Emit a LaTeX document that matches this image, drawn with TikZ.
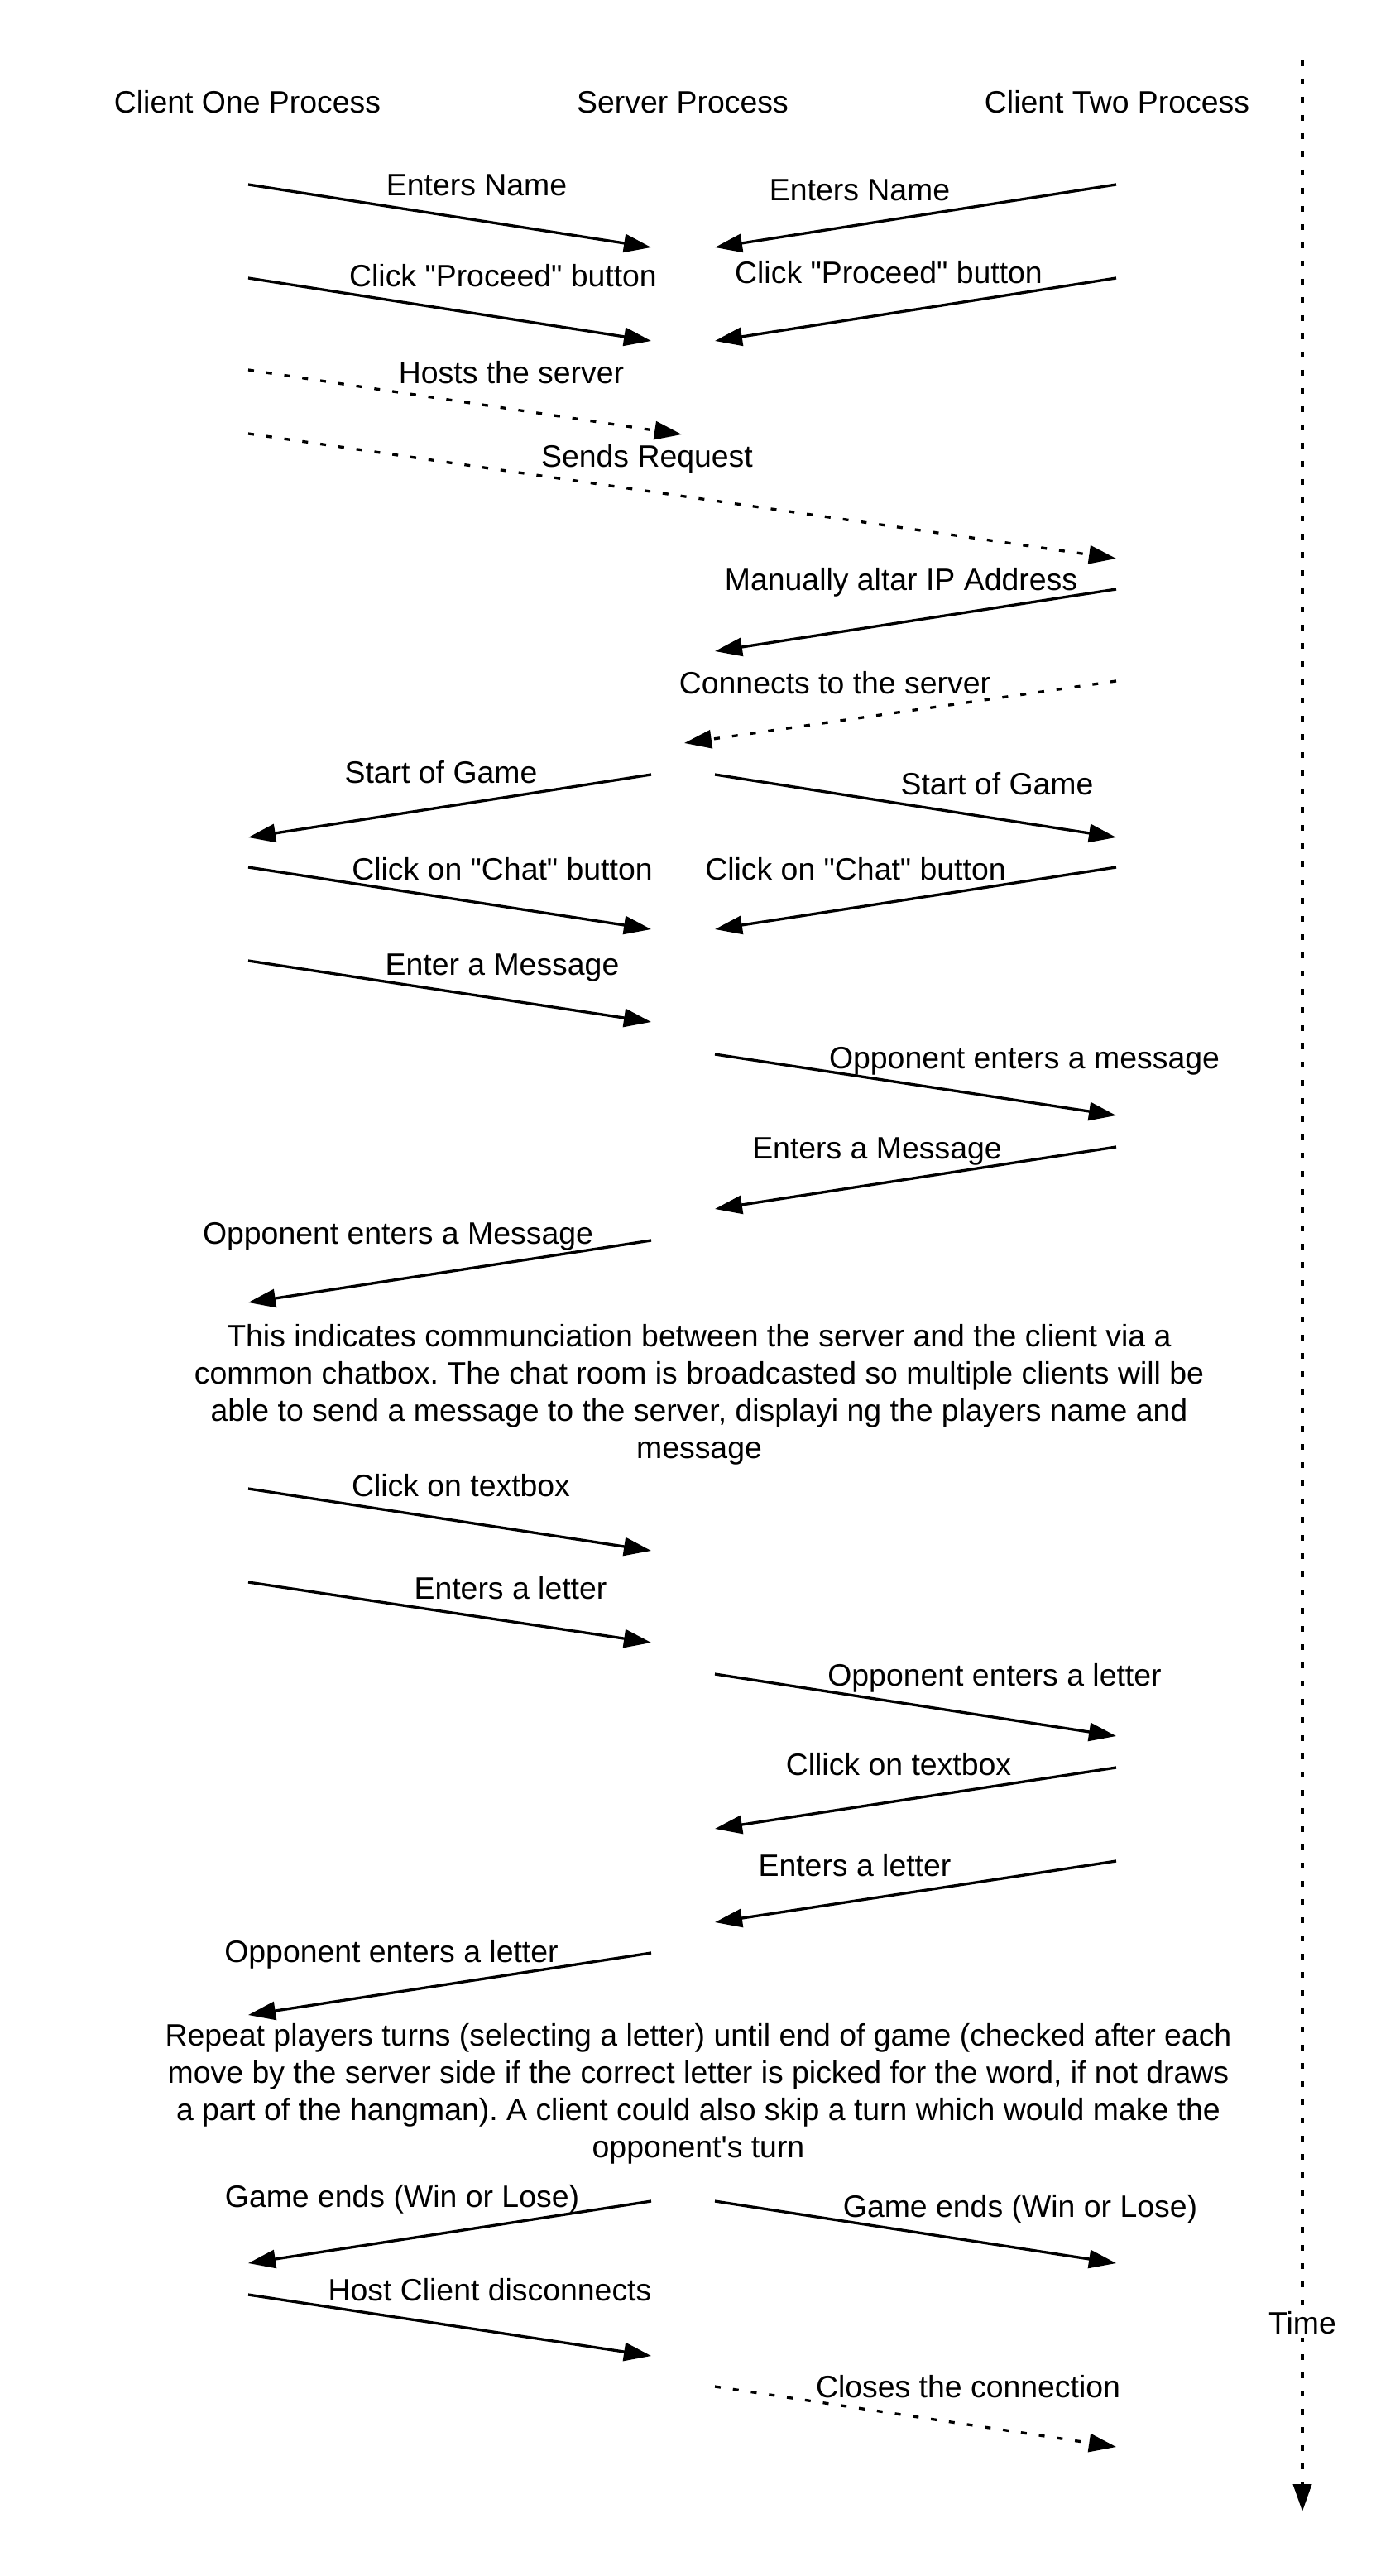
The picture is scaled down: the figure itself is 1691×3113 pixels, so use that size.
\documentclass[tikz,border=0pt]{standalone}
\usepackage{fontspec}
\setmainfont{Liberation Sans}[Ligatures=TeXOff]
\usetikzlibrary{arrows.meta}
\frenchspacing
\begin{document}
\begin{tikzpicture}[x=0.5pt,y=-0.5pt,
  msg/.style={line width=1.65pt,-{Triangle[length=16.5pt,width=11pt]}},
  dotmsg/.style={msg,dash pattern=on 3.5pt off 7.5pt},
  timeline/.style={line width=2pt,dash pattern=on 3.5pt off 7.5pt,-{Triangle[length=16.5pt,width=11pt]}},
  lbl/.style={anchor=base,inner sep=0pt,font=\fontsize{18.7pt}{22.5pt}\selectfont},
  para/.style={anchor=north,inner sep=0pt,align=center,font=\fontsize{18.7pt}{22.5pt}\selectfont},
  timelbl/.style={fill=white,inner sep=2pt,font=\fontsize{18.7pt}{22.5pt}\selectfont}]
\fill[white] (0,0) rectangle (1691,3113);
\useasboundingbox (0,0) rectangle (1691,3113);

% headers
\node[lbl] (h1) at (299,137) {Client One Process};
\node[lbl] (h2) at (825,137) {Server Process};
\node[lbl] (h3) at (1350,137) {Client Two Process};

% time axis
\coordinate (t0) at (1574,73);
\coordinate (t1) at (1574,3035);
\draw[timeline] (t0) -- (t1);
\node[timelbl] (time) at (1574,2807) {Time};

% endpoints
\coordinate (a1s) at (300,223);  \coordinate (a1e) at (787,299);
\coordinate (a2s) at (1349,223); \coordinate (a2e) at (864,299);
\coordinate (a3s) at (300,336);  \coordinate (a3e) at (787,412);
\coordinate (a4s) at (1349,336); \coordinate (a4e) at (864,412);
\coordinate (a5s) at (300,447);  \coordinate (a5e) at (824,525);
\coordinate (a6s) at (300,524);  \coordinate (a6e) at (1349,675);
\coordinate (a7s) at (1349,712); \coordinate (a7e) at (864,787);
\coordinate (a8s) at (1349,823); \coordinate (a8e) at (827,898);
\coordinate (a9s) at (787,936);  \coordinate (a9e) at (300,1012);
\coordinate (a10s) at (864,936); \coordinate (a10e) at (1349,1012);
\coordinate (a11s) at (300,1048); \coordinate (a11e) at (787,1123);
\coordinate (a12s) at (1349,1048); \coordinate (a12e) at (864,1123);
\coordinate (a13s) at (300,1161); \coordinate (a13e) at (787,1235);
\coordinate (a14s) at (864,1274); \coordinate (a14e) at (1349,1348);
\coordinate (a15s) at (1349,1386); \coordinate (a15e) at (864,1461);
\coordinate (a16s) at (787,1499); \coordinate (a16e) at (300,1574);
\coordinate (a17s) at (300,1799); \coordinate (a17e) at (787,1874);
\coordinate (a18s) at (300,1912); \coordinate (a18e) at (787,1985);
\coordinate (a19s) at (864,2023); \coordinate (a19e) at (1349,2098);
\coordinate (a20s) at (1349,2136); \coordinate (a20e) at (864,2210);
\coordinate (a21s) at (1349,2249); \coordinate (a21e) at (864,2323);
\coordinate (a22s) at (787,2360); \coordinate (a22e) at (300,2435);
\coordinate (a23s) at (787,2660); \coordinate (a23e) at (300,2735);
\coordinate (a24s) at (864,2660); \coordinate (a24e) at (1349,2735);
\coordinate (a25s) at (300,2773); \coordinate (a25e) at (787,2847);
\coordinate (a26s) at (864,2884); \coordinate (a26e) at (1349,2957);

% connectors
\draw[msg] (a1s) -- (a1e);
\draw[msg] (a2s) -- (a2e);
\draw[msg] (a3s) -- (a3e);
\draw[msg] (a4s) -- (a4e);
\draw[dotmsg] (a5s) -- (a5e);
\draw[dotmsg] (a6s) -- (a6e);
\draw[msg] (a7s) -- (a7e);
\draw[dotmsg] (a8s) -- (a8e);
\draw[msg] (a9s) -- (a9e);
\draw[msg] (a10s) -- (a10e);
\draw[msg] (a11s) -- (a11e);
\draw[msg] (a12s) -- (a12e);
\draw[msg] (a13s) -- (a13e);
\draw[msg] (a14s) -- (a14e);
\draw[msg] (a15s) -- (a15e);
\draw[msg] (a16s) -- (a16e);
\draw[msg] (a17s) -- (a17e);
\draw[msg] (a18s) -- (a18e);
\draw[msg] (a19s) -- (a19e);
\draw[msg] (a20s) -- (a20e);
\draw[msg] (a21s) -- (a21e);
\draw[msg] (a22s) -- (a22e);
\draw[msg] (a23s) -- (a23e);
\draw[msg] (a24s) -- (a24e);
\draw[msg] (a25s) -- (a25e);
\draw[dotmsg] (a26s) -- (a26e);

% labels
\node[lbl] (l1) at (576,237) {Enters Name};
\node[lbl] (l2) at (1039,243) {Enters Name};
\node[lbl] (l3) at (608,347) {Click \char34 Proceed\char34{} button};
\node[lbl] (l4) at (1074,343) {Click \char34 Proceed\char34{} button};
\node[lbl] (l5) at (618,464) {Hosts the server};
\node[lbl] (l6) at (782,565) {Sends Request};
\node[lbl] (l7) at (1089,713) {Manually altar IP Address};
\node[lbl] (l8) at (1009,838) {Connects to the server};
\node[lbl] (l9) at (533,946) {Start of Game};
\node[lbl] (l10) at (1205,960) {Start of Game};
\node[lbl] (l11) at (607,1063) {Click on \char34 Chat\char34{} button};
\node[lbl] (l12) at (1034,1063) {Click on \char34 Chat\char34{} button};
\node[lbl] (l13) at (607,1178) {Enter a Message};
\node[lbl] (l14) at (1238,1291) {Opponent enters a message};
\node[lbl] (l15) at (1060,1400) {Enters a Message};
\node[lbl] (l16) at (481,1503) {Opponent enters a Message};
\node[para] (p1) at (845,1600) {This indicates communciation between the server and the client via a\\common chatbox. The chat room is broadcasted so multiple clients will be\\able to send a message to the server, displayi ng the players name and\\message};
\node[lbl] (l17) at (557,1808) {Click on textbox};
\node[lbl] (l18) at (617,1932) {Enters a letter};
\node[lbl] (l19) at (1202,2037) {Opponent enters a letter};
\node[lbl] (l20) at (1086,2145) {Cllick on textbox};
\node[lbl] (l21) at (1033,2267) {Enters a letter};
\node[lbl] (l22) at (473,2371) {Opponent enters a letter};
\node[para] (p2) at (844,2445) {Repeat players turns (selecting a letter) until end of game (checked after each\\move by the server side if the correct letter is picked for the word, if not draws\\a part of the hangman). A client could also skip a turn which would make the\\opponent\char39 s turn};
\node[lbl] (l23) at (486,2667) {Game ends (Win or Lose)};
\node[lbl] (l24) at (1233,2679) {Game ends (Win or Lose)};
\node[lbl] (l25) at (592,2780) {Host Client disconnects};
\node[lbl] (l26) at (1170,2897) {Closes the connection};
\end{tikzpicture}
\end{document}
